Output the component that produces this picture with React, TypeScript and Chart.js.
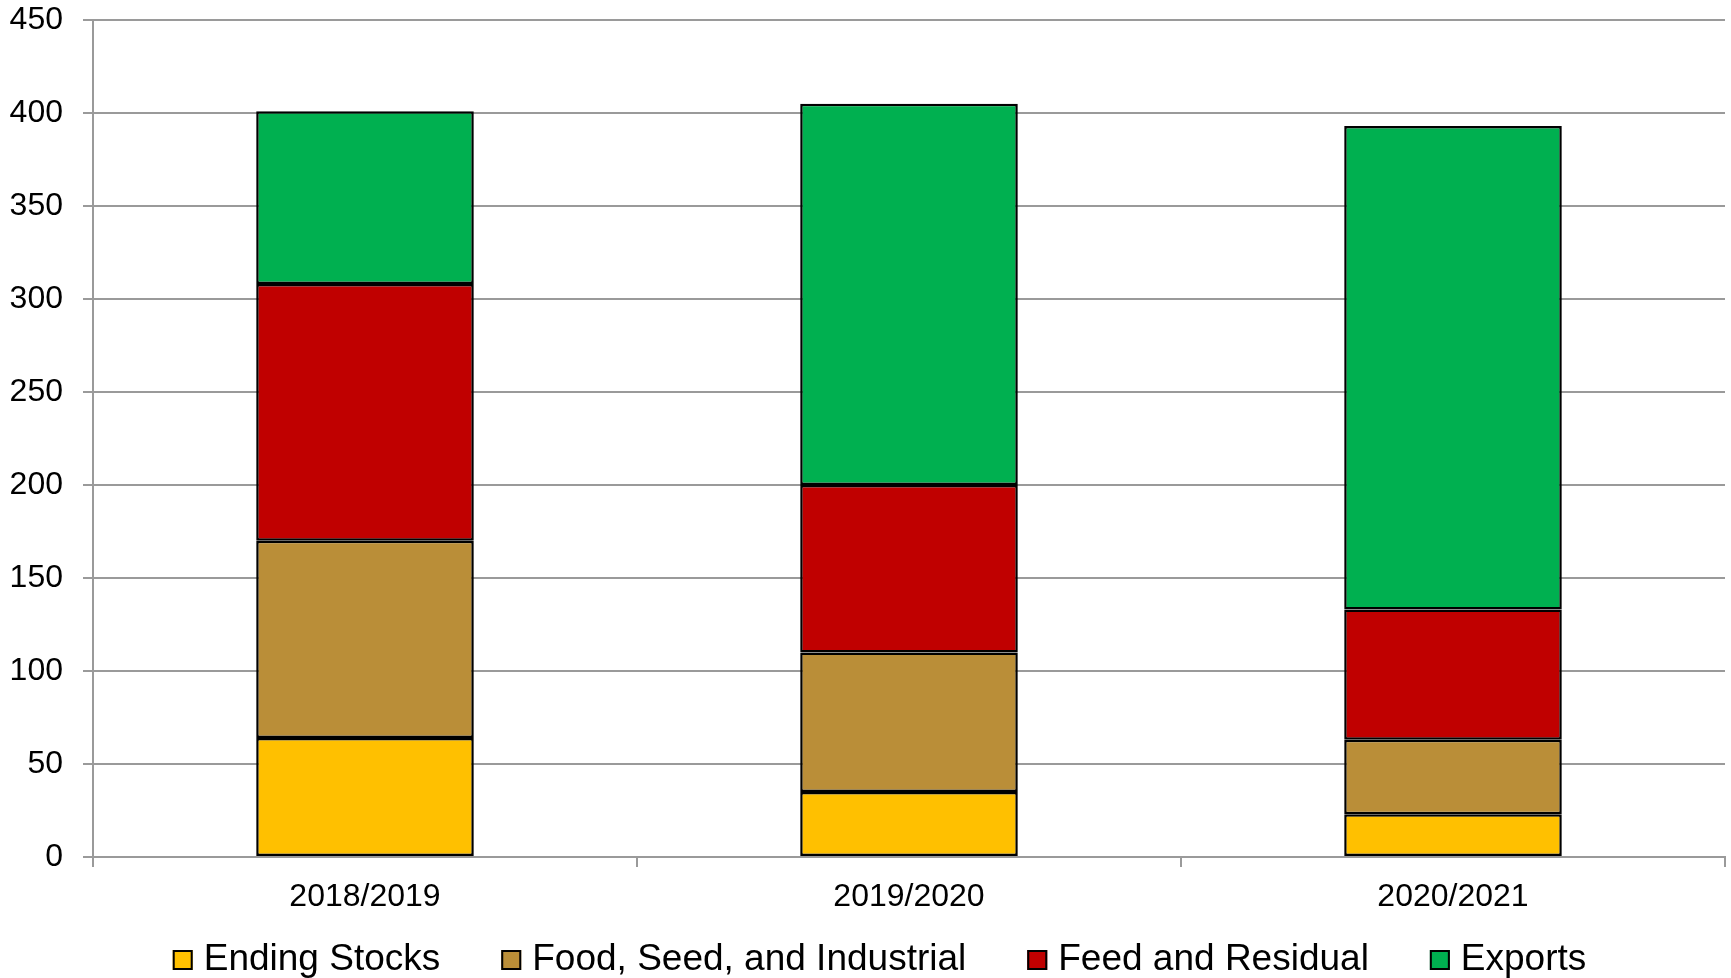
import React, { useEffect, useRef } from 'react';
import { Chart, registerables } from 'chart.js';

Chart.register(...registerables);

const categories = ['2018/2019', '2019/2020', '2020/2021'];
const endingStocks = [64, 35, 23];
const foodSeedIndustrial = [106, 75, 40];
const feedResidual = [138, 90, 70];
const exportsValues = [93, 205, 260];

const seriesLabels = ['Ending Stocks', 'Food, Seed, and Industrial', 'Feed and Residual', 'Exports'];
const seriesColors = ['#FFC000', '#BA8E38', '#C00000', '#00B050'];

const FONT = '"Liberation Sans", Arial, sans-serif';
const GRID = '#9a9a9a';

const legendPlugin = {
  id: 'customLegend',
  afterDraw(chart: any) {
    const ctx = chart.ctx;
    ctx.save();
    ctx.font = `37px ${FONT}`;
    const box = 20;
    const gap = 11;
    const spacing = 61;
    const items = chart.data.datasets.map((ds: any) => ({
      label: ds.label,
      color: ds.backgroundColor,
      w: ctx.measureText(ds.label).width,
    }));
    const total =
      items.reduce((s: number, it: any) => s + box + gap + it.w, 0) + spacing * (items.length - 1);
    let x = chart.width / 2 + 14 - total / 2;
    const baseline = 970;
    ctx.textBaseline = 'alphabetic';
    ctx.textAlign = 'left';
    for (const it of items) {
      ctx.fillStyle = it.color;
      ctx.fillRect(x, baseline - box, box, box);
      ctx.lineWidth = 2;
      ctx.strokeStyle = '#000';
      ctx.strokeRect(x + 1, baseline - box + 1, box - 2, box - 2);
      ctx.fillStyle = '#000';
      ctx.fillText(it.label, x + box + gap, baseline);
      x += box + gap + it.w + spacing;
    }
    ctx.restore();
  },
};

export default function App() {
  const ref = useRef<HTMLCanvasElement | null>(null);

  useEffect(() => {
    document.body.style.margin = '0';
    const canvas = ref.current;
    if (!canvas) return;
    const seriesData = [endingStocks, foodSeedIndustrial, feedResidual, exportsValues];
    const chart = new Chart(canvas, {
      type: 'bar',
      data: {
        labels: categories,
        datasets: seriesData.map((d, i) => ({
          label: seriesLabels[i],
          data: d,
          backgroundColor: seriesColors[i],
          borderColor: '#000000',
          borderWidth: 2.5,
          borderSkipped: false,
          categoryPercentage: 0.4,
          barPercentage: 1,
        })),
      },
      options: {
        responsive: false,
        animation: false,
        layout: { padding: { top: 20, left: 0, right: 6, bottom: 60 } },
        plugins: {
          legend: { display: false },
          tooltip: { enabled: false },
        },
        scales: {
          x: {
            stacked: true,
            grid: {
              display: true,
              drawOnChartArea: false,
              drawTicks: true,
              tickLength: 10,
              color: GRID,
              lineWidth: 2,
              offset: true,
            },
            border: { display: true, color: GRID, width: 2 },
            ticks: {
              color: '#000',
              font: { family: FONT, size: 32 },
              padding: 11,
              maxRotation: 0,
            },
            afterFit: (scale: any) => {
              scale.height = 61;
              scale.paddingLeft = 0;
              scale.paddingRight = 0;
            },
          },
          y: {
            stacked: true,
            min: 0,
            max: 450,
            grid: {
              color: GRID,
              lineWidth: 2,
              drawTicks: true,
              tickLength: 10,
            },
            border: { display: true, color: GRID, width: 2 },
            ticks: {
              stepSize: 50,
              color: '#000',
              font: { family: FONT, size: 32 },
              padding: 20,
            },
            afterFit: (scale: any) => {
              scale.width = 93;
              scale.paddingTop = 0;
              scale.paddingBottom = 0;
            },
          },
        },
      },
      plugins: [legendPlugin],
    });
    return () => chart.destroy();
  }, []);

  return (
    <div style={{ width: 1731, height: 978, overflow: 'hidden' }}>
      <canvas ref={ref} width={1731} height={978} style={{ display: 'block' }} />
    </div>
  );
}
